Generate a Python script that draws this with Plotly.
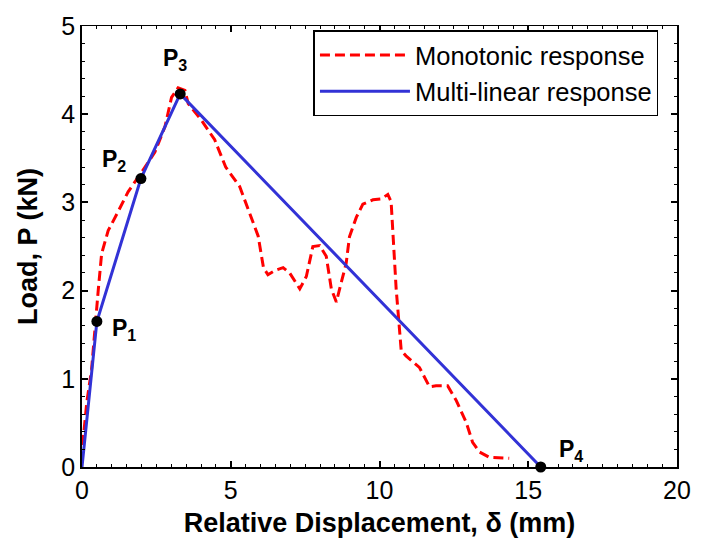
import plotly.graph_objects as go

# Monotonic response (red dashed)
mono_x = [0.02, 0.16, 0.32, 0.44, 0.55, 0.66, 0.88, 1.22, 1.55, 2.0, 2.45, 2.79, 3.01, 3.23, 3.46, 3.57,
          4.02, 4.46, 4.83, 5.30, 5.60, 5.92, 6.10, 6.25, 6.50, 6.76, 6.98, 7.32, 7.54, 7.76, 7.99, 8.21,
          8.38, 8.55, 8.66, 8.88, 8.99, 9.22, 9.44, 9.78, 10.06, 10.28, 10.39, 10.45, 10.56, 10.67, 10.73,
          10.89, 11.34, 11.68, 11.90, 12.29, 12.57, 12.91, 13.13, 13.36, 13.69, 14.36]
mono_y = [0.25, 0.73, 1.10, 1.61, 2.02, 2.42, 2.68, 2.90, 3.12, 3.34, 3.57, 3.86, 4.19, 4.30, 4.27, 4.12,
          3.93, 3.71, 3.40, 3.18, 2.92, 2.62, 2.26, 2.18, 2.23, 2.26, 2.20, 2.02, 2.16, 2.50, 2.51, 2.39,
          2.02, 1.87, 2.02, 2.31, 2.61, 2.83, 2.98, 3.03, 3.04, 3.09, 3.01, 2.61, 2.02, 1.57, 1.32,
          1.26, 1.13, 0.91, 0.92, 0.92, 0.76, 0.51, 0.28, 0.17, 0.11, 0.10]

# Multi-linear response (blue)
lin_x = [0.0, 0.5, 1.98, 3.3, 15.42]
lin_y = [0.0, 1.65, 3.27, 4.23, 0.0]

# Key points
pt_x = [0.5, 1.98, 3.3, 15.42]
pt_y = [1.65, 3.27, 4.23, 0.0]
pt_labels = ["<b>P<sub>1</sub></b>", "<b>P<sub>2</sub></b>", "<b>P<sub>3</sub></b>", "<b>P<sub>4</sub></b>"]
lab_x = [0.94, 0.60, 2.65, 15.97]
lab_y = [1.56, 3.47, 4.62, 0.19]

x_ticks = [0, 5, 10, 15, 20]
y_ticks = [0, 1, 2, 3, 4, 5]

FONT = "Liberation Sans, Arial"

fig = go.Figure()
fig.add_trace(go.Scatter(x=mono_x, y=mono_y, mode="lines", name="Monotonic response",
                         legendgroup="a",
                         line=dict(color="#FF0000", width=3, dash="10px,5px")))
fig.add_trace(go.Scatter(x=lin_x, y=lin_y, mode="lines", name="Multi-linear response",
                         legendgroup="b",
                         line=dict(color="#3232D6", width=3)))
fig.add_trace(go.Scatter(x=pt_x, y=pt_y, mode="markers", showlegend=False, cliponaxis=False,
                         marker=dict(color="black", size=11)))
# empty trace to host the mirrored top/right axes
fig.add_trace(go.Scatter(x=[None], y=[None], xaxis="x2", yaxis="y2", showlegend=False,
                         hoverinfo="skip"))

for tx, ty, t in zip(lab_x, lab_y, pt_labels):
    fig.add_annotation(x=tx, y=ty, xref="x", yref="y", text=t, showarrow=False,
                       xanchor="left", yanchor="middle",
                       font=dict(family=FONT, size=23, color="black"))

axis_common = dict(showgrid=False, zeroline=False, showline=True, linecolor="black", linewidth=1.5,
                   ticks="inside", ticklen=6, tickwidth=1.5, tickcolor="black",
                   tickfont=dict(family=FONT, size=25, color="black"))

fig.update_layout(
    xaxis=dict(range=[0, 20], tickvals=x_ticks, ticktext=[str(v) for v in x_ticks],
               minor=dict(dtick=0.5, ticks="inside", ticklen=3, tickwidth=1, tickcolor="black"),
               title=dict(text="<b>Relative Displacement, δ (mm)</b>", standoff=10,
                          font=dict(family=FONT, size=27, color="black")),
               **axis_common),
    yaxis=dict(range=[0, 5], tickvals=y_ticks, ticktext=[str(v) for v in y_ticks],
               minor=dict(dtick=0.2, ticks="inside", ticklen=3, tickwidth=1, tickcolor="black"),
               title=dict(text="<b>Load, P (kN)</b>", standoff=16,
                          font=dict(family=FONT, size=27, color="black")),
               **axis_common),
    xaxis2=dict(range=[0, 20], overlaying="x", side="top", anchor="y2", tickvals=x_ticks,
                showticklabels=False, showgrid=False, zeroline=False, showline=True,
                linecolor="black", linewidth=1, ticks="inside", ticklen=6, tickwidth=1.5,
                tickcolor="black",
                minor=dict(dtick=0.5, ticks="inside", ticklen=3, tickwidth=1, tickcolor="black")),
    yaxis2=dict(range=[0, 5], overlaying="y", side="right", anchor="x2", tickvals=y_ticks,
                showticklabels=False, showgrid=False, zeroline=False, showline=True,
                linecolor="black", linewidth=1.5, ticks="inside", ticklen=6, tickwidth=1.5,
                tickcolor="black",
                minor=dict(dtick=0.2, ticks="inside", ticklen=3, tickwidth=1, tickcolor="black")),
    width=703, height=545,
    margin=dict(l=82, r=25, t=17, b=76),
    plot_bgcolor="white", paper_bgcolor="white",
    legend=dict(x=0.389, y=0.99, xanchor="left", yanchor="top",
                bordercolor="black", borderwidth=1.5, bgcolor="white",
                font=dict(family=FONT, size=25.5, color="black"),
                itemwidth=90, tracegroupgap=0),
)

fig.write_html("out.html")
